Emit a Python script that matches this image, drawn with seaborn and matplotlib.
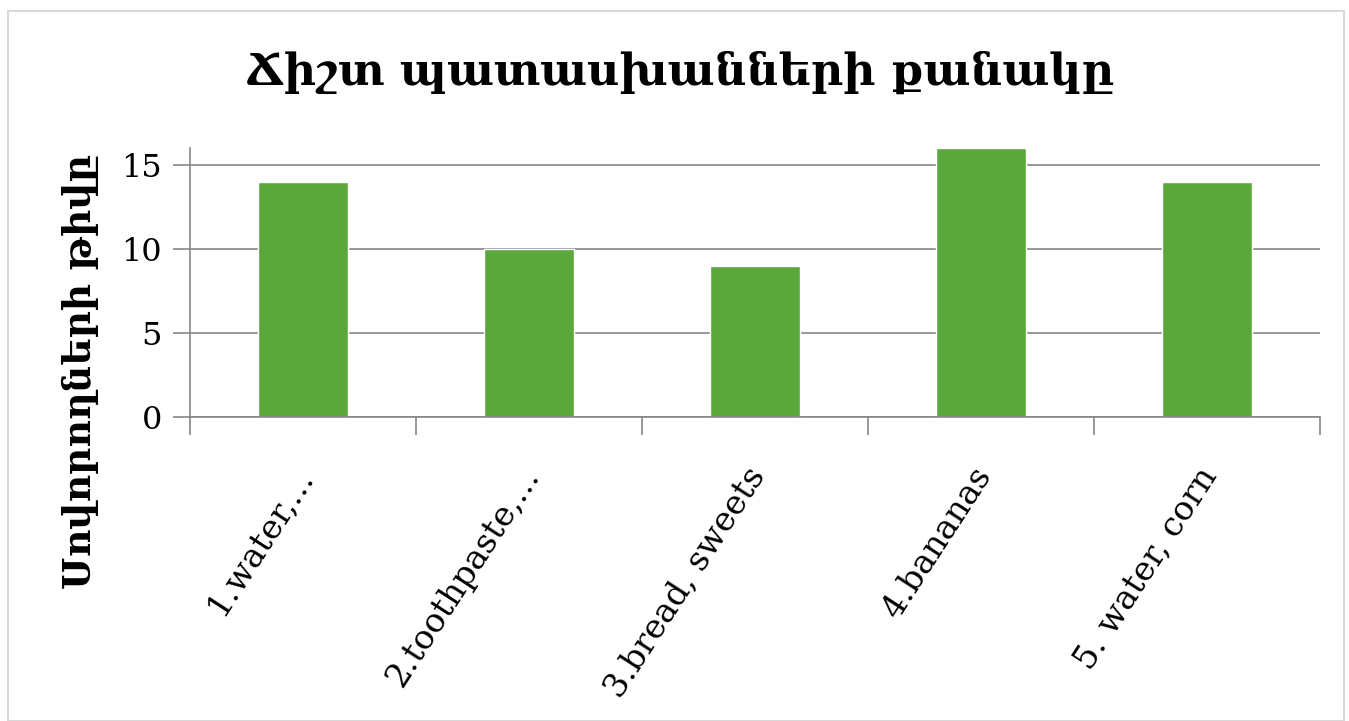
import matplotlib
matplotlib.use("Agg")
import matplotlib.pyplot as plt
import matplotlib.transforms as mtransforms
import seaborn as sns
from matplotlib.patches import Rectangle

categories = ["1.water,...", "2.toothpaste,...", "3.bread, sweets", "4.bananas", "5. water, corn"]
values = [14, 10, 9, 16, 14]
yticks = [0, 5, 10, 15]
title = "Ճիշտ պատասխանների քանակը"
ylabel = "Սովորողների թիվը"

sns.set_theme(style="white")
plt.rcParams['font.family'] = ['DejaVu Serif', 'DejaVu Sans']
plt.rcParams['text.color'] = 'black'

fig = plt.figure(figsize=(13.49, 7.21), dpi=100)
ax = fig.add_axes([0.1408, 0.4216, 0.8377, 0.3731])

sns.barplot(x=categories, y=values, ax=ax, color="#5aa83c", width=0.4, saturation=1)

ax.set_ylim(0, 16)
ax.set_xlim(-0.5, len(categories) - 0.5)
ax.set_yticks(yticks)
ax.set_yticklabels([str(t) for t in yticks], fontsize=23)
for t in yticks:
    ax.axhline(t, color="#868686", lw=1.2, zorder=0)

# category boundary ticks on x axis
ax.set_xticks([i - 0.5 for i in range(len(categories) + 1)], minor=True)
ax.tick_params(axis='x', which='minor', length=13, width=1.2, color="#868686", bottom=True)
ax.tick_params(axis='x', which='major', length=0, pad=32, labelcolor='black')
ax.tick_params(axis='y', length=12, width=1.2, color="#868686", left=True, pad=8, labelcolor='black')
ax.set_xticklabels(categories, rotation=57, ha='right', rotation_mode='anchor', fontsize=24)
shift = mtransforms.ScaledTranslation(-10 / 100, 0, fig.dpi_scale_trans)
for lab in ax.get_xticklabels():
    lab.set_transform(lab.get_transform() + shift)

for s in ['top', 'right']:
    ax.spines[s].set_visible(False)
for s in ['left', 'bottom']:
    ax.spines[s].set_color("#868686")
    ax.spines[s].set_linewidth(1.2)

ax.set_xlabel("")
ax.set_ylabel("")
fig.text(0.06, 0.484, ylabel, rotation=90, ha='center', va='center',
         fontsize=27, fontweight='bold', color='black')
fig.text(0.504, 0.90, title, ha='center', va='center', fontsize=32,
         fontweight='bold', color='black')

# outer frame of the chart area
fig.patches.append(Rectangle((0.006, 0.0), 0.99, 0.985, transform=fig.transFigure,
                             fill=False, edgecolor="#d9d9d9", lw=1.5))

fig.savefig("out.png", dpi=100)
